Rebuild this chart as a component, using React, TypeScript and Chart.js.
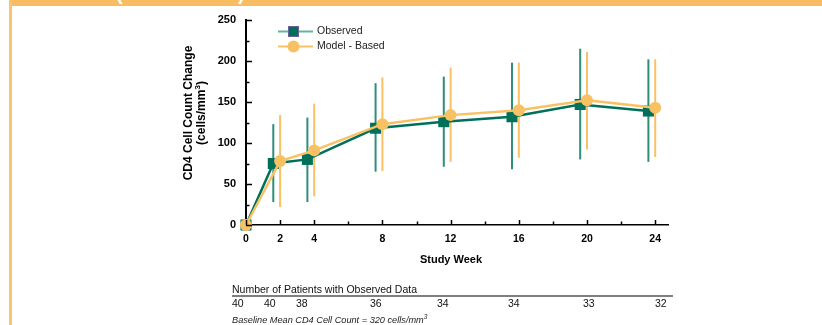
import React, { useEffect, useRef } from "react";
import { Chart, registerables } from "chart.js";

Chart.register(...registerables);

// ---------- data ----------
const weeks = [0, 2, 4, 8, 12, 16, 20, 24];
const observedWeeks = [0, 1.6, 3.6, 7.6, 11.6, 15.6, 19.6, 23.6];
const observedMean = [0, 75, 80, 118, 126, 132, 147, 139];
const observedLow = [0, 28, 28, 65, 71, 68, 80, 77];
const observedHigh = [0, 123, 131, 173, 181, 198, 215, 202];
const modelMean = [0, 78, 91, 123, 134, 140, 152, 143];
const modelLow = [0, 22, 35, 66, 77, 82, 92, 83];
const modelHigh = [0, 134, 148, 180, 192, 198, 211, 202];
const yMinorTicks = [25, 75, 125, 175, 225];
const xMinorTicks = [6, 10, 14, 18, 22];
const patientCounts = [40, 40, 38, 36, 34, 34, 33, 32];

// ---------- layout / style ----------
const FONT = "'Liberation Sans', Arial, Helvetica, sans-serif";
const OBS_LINE = "#00705a";
const OBS_BAR = "#2f8e78";
const OBS_LEGEND_LINE = "#63b5a2";
const OBS_LEGEND_BORDER = "#6d5f9b";
const MODEL_COLOR = "#f8c163";
const BAND = "#f8bd62";
const countLeft = [232, 264, 296, 370, 437, 508, 583, 655];

const customPlugin = {
  id: "customDecor",
  beforeDatasetsDraw(chart: any) {
    const { ctx } = chart;
    const x = chart.scales.x;
    const y = chart.scales.y;
    ctx.save();
    const drawBars = (xs: number[], lows: number[], highs: number[], color: string) => {
      ctx.strokeStyle = color;
      ctx.lineWidth = 2;
      xs.forEach((w, i) => {
        if (highs[i] === lows[i]) return;
        const px = x.getPixelForValue(w);
        ctx.beginPath();
        ctx.moveTo(px, y.getPixelForValue(lows[i]));
        ctx.lineTo(px, y.getPixelForValue(highs[i]));
        ctx.stroke();
      });
    };
    drawBars(observedWeeks, observedLow, observedHigh, OBS_BAR);
    drawBars(weeks, modelLow, modelHigh, MODEL_COLOR);
    ctx.restore();
  },
  afterDraw(chart: any) {
    const { ctx, chartArea } = chart;
    const x = chart.scales.x;
    const y = chart.scales.y;
    ctx.save();
    // inside ticks
    ctx.strokeStyle = "#000";
    ctx.lineWidth = 1.5;
    const yMajor = [0, 50, 100, 150, 200, 250];
    yMajor.forEach((v) => {
      const py = Math.round(y.getPixelForValue(v)) + 0.5;
      ctx.beginPath();
      ctx.moveTo(chartArea.left, py);
      ctx.lineTo(chartArea.left + 6, py);
      ctx.stroke();
    });
    yMinorTicks.forEach((v) => {
      const py = Math.round(y.getPixelForValue(v)) + 0.5;
      ctx.beginPath();
      ctx.moveTo(chartArea.left, py);
      ctx.lineTo(chartArea.left + 3.5, py);
      ctx.stroke();
    });
    weeks.forEach((v) => {
      const px = Math.round(x.getPixelForValue(v)) + 0.5;
      ctx.beginPath();
      ctx.moveTo(px, chartArea.bottom);
      ctx.lineTo(px, chartArea.bottom - 5);
      ctx.stroke();
    });
    xMinorTicks.forEach((v) => {
      const px = Math.round(x.getPixelForValue(v)) + 0.5;
      ctx.beginPath();
      ctx.moveTo(px, chartArea.bottom);
      ctx.lineTo(px, chartArea.bottom - 3.5);
      ctx.stroke();
    });

    // legend
    const legendRows = [
      { label: "Observed", y: 31.5, line: OBS_LEGEND_LINE, kind: "rect" },
      { label: "Model - Based", y: 46.5, line: MODEL_COLOR, kind: "circle" },
    ];
    legendRows.forEach((r) => {
      ctx.strokeStyle = r.line;
      ctx.lineWidth = 2;
      ctx.beginPath();
      ctx.moveTo(278, r.y);
      ctx.lineTo(313, r.y);
      ctx.stroke();
      if (r.kind === "rect") {
        ctx.fillStyle = OBS_LINE;
        ctx.fillRect(288, r.y - 5.5, 11, 11);
        ctx.strokeStyle = OBS_LEGEND_BORDER;
        ctx.lineWidth = 1;
        ctx.strokeRect(288.5, r.y - 5, 10, 10);
      } else {
        ctx.fillStyle = MODEL_COLOR;
        ctx.beginPath();
        ctx.arc(293.5, r.y, 6, 0, Math.PI * 2);
        ctx.fill();
      }
      ctx.fillStyle = "#222";
      ctx.font = `10.5px ${FONT}`;
      ctx.textAlign = "left";
      ctx.textBaseline = "middle";
      ctx.fillText(r.label, 317, r.y);
    });

    // axis titles
    ctx.fillStyle = "#000";
    ctx.font = `bold 11px ${FONT}`;
    ctx.textAlign = "center";
    ctx.textBaseline = "alphabetic";
    ctx.fillText("Study Week", 451, 263);

    ctx.save();
    ctx.translate(192, 113);
    ctx.rotate(-Math.PI / 2);
    ctx.font = `bold 12px ${FONT}`;
    ctx.textAlign = "center";
    ctx.fillText("CD4 Cell Count Change", 0, 0);
    // second line with superscript
    const main = "(cells/mm";
    const sup = "3";
    const tail = ")";
    ctx.font = `bold 12px ${FONT}`;
    const wMain = ctx.measureText(main).width;
    const wTail = ctx.measureText(tail).width;
    ctx.font = `bold 8px ${FONT}`;
    const wSup = ctx.measureText(sup).width;
    const total = wMain + wSup + wTail;
    let sx = -total / 2;
    ctx.textAlign = "left";
    ctx.font = `bold 12px ${FONT}`;
    ctx.fillText(main, sx, 13);
    sx += wMain;
    ctx.font = `bold 8px ${FONT}`;
    ctx.fillText(sup, sx, 8);
    sx += wSup;
    ctx.font = `bold 12px ${FONT}`;
    ctx.fillText(tail, sx, 13);
    ctx.restore();

    // patients table
    ctx.fillStyle = "#111";
    ctx.font = `10.5px ${FONT}`;
    ctx.textAlign = "left";
    ctx.textBaseline = "alphabetic";
    ctx.fillText("Number of Patients with Observed Data", 232, 293);
    ctx.strokeStyle = "#555";
    ctx.lineWidth = 1.3;
    ctx.beginPath();
    ctx.moveTo(232, 296);
    ctx.lineTo(673, 296);
    ctx.stroke();
    patientCounts.forEach((n, i) => {
      ctx.fillText(String(n), countLeft[i], 307);
    });

    // footnote
    ctx.font = `italic 9.2px ${FONT}`;
    ctx.fillStyle = "#222";
    const foot = "Baseline Mean CD4 Cell Count = 320 cells/mm";
    ctx.fillText(foot, 232, 323);
    const fw = ctx.measureText(foot).width;
    ctx.font = `italic 6.5px ${FONT}`;
    ctx.fillText("3", 232 + fw, 319);
    ctx.restore();
  },
};

export default function App() {
  const canvasRef = useRef<HTMLCanvasElement | null>(null);

  useEffect(() => {
    document.body.style.margin = "0";
    const canvas = canvasRef.current;
    if (!canvas) return;
    const chart = new Chart(canvas, {
      type: "line",
      data: {
        datasets: [
          {
            label: "Observed",
            data: observedWeeks.map((w, i) => ({ x: w, y: observedMean[i] })),
            borderColor: OBS_LINE,
            backgroundColor: OBS_LINE,
            borderWidth: 2.5,
            pointStyle: "rect",
            pointRadius: 7.8,
            pointBorderWidth: 0,
            pointBackgroundColor: OBS_LINE,
            clip: false as any,
            order: 2,
          },
          {
            label: "Model - Based",
            data: weeks.map((w, i) => ({ x: w, y: modelMean[i] })),
            borderColor: MODEL_COLOR,
            backgroundColor: MODEL_COLOR,
            borderWidth: 2.5,
            pointStyle: "circle",
            pointRadius: 6,
            pointBorderWidth: 0,
            pointBackgroundColor: MODEL_COLOR,
            clip: false as any,
            order: 1,
          },
        ],
      },
      options: {
        animation: false,
        responsive: false,
        layout: { padding: { left: 0, right: 154, top: 20, bottom: 0 } },
        plugins: {
          legend: { display: false },
          tooltip: { enabled: false },
        },
        scales: {
          x: {
            type: "linear",
            min: 0,
            max: 24.75,
            afterBuildTicks: (s: any) => {
              s.ticks = weeks.map((v) => ({ value: v }));
            },
            afterFit: (s: any) => {
              s.height = 100;
            },
            grid: { display: false, drawTicks: false },
            border: { display: true, color: "#000", width: 1.5 },
            ticks: {
              padding: 8,
              color: "#000",
              maxRotation: 0,
              autoSkip: false,
              font: { family: FONT, size: 10.5, weight: "bold" },
            },
          },
          y: {
            type: "linear",
            min: 0,
            max: 250,
            afterFit: (s: any) => {
              s.width = 246;
            },
            grid: { display: false, drawTicks: false },
            border: { display: true, color: "#000", width: 2 },
            ticks: {
              stepSize: 50,
              padding: 10,
              color: "#000",
              font: { family: FONT, size: 11, weight: "bold" },
            },
          },
        },
      },
      plugins: [customPlugin],
    });
    return () => chart.destroy();
  }, []);

  return (
    <div style={{ position: "relative", width: 822, height: 325, background: "#fff", overflow: "hidden" }}>
      <div style={{ position: "absolute", left: 9, top: 0, width: 813, height: 6, background: BAND, overflow: "hidden" }}>
        <span style={{ position: "absolute", left: 107, top: -18, color: "#fff", font: `bold 20px ${FONT}` }}>(</span>
        <span style={{ position: "absolute", left: 229, top: -18, color: "#fff", font: `bold 20px ${FONT}` }}>)</span>
      </div>
      <div style={{ position: "absolute", left: 9, top: 0, width: 3, height: 325, background: "#f9c46e" }} />
      <canvas ref={canvasRef} width={822} height={325} style={{ position: "absolute", left: 0, top: 0 }} />
    </div>
  );
}
